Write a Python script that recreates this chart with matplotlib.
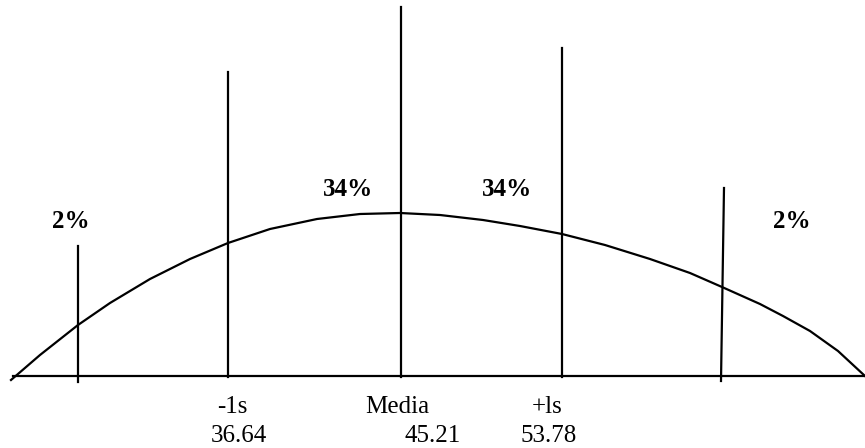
import matplotlib.pyplot as plt

# curve points (pixel-like units, y grows downward)
curve_x = [11, 40, 78, 110, 150, 190, 228, 270, 317, 360, 400, 440, 483, 520, 562, 605, 650, 690, 722, 760, 783, 810, 838, 865]
curve_y = [380, 355, 325, 303, 279, 259, 243, 229, 219, 214, 213, 215, 220, 226, 234, 245, 259, 273, 287, 304, 316, 331, 351, 376]

# vertical lines: x at top, x at bottom, top y, bottom y
vx_top = [78, 228, 401, 562, 724]
vx_bot = [78, 228, 401, 562, 721]
v_top = [246, 72, 7, 48, 188]
v_bot = [382, 377, 377, 377, 381]

base_x = [13, 865]
base_y = [376, 376]

pct_labels = ['2%', '34%', '34%', '2%']
pct_x = [71, 348, 507, 792]
pct_y = [221, 190, 190, 221]

name_labels = ['-1s', 'Media', '+ls']
name_x = [232, 397, 547]
value_labels = ['36.64', '45.21', '53.78']
value_x = [239, 433, 549]

plt.rcParams['font.family'] = ['Liberation Serif', 'DejaVu Serif']

fig = plt.figure(figsize=(8.65, 4.48), dpi=100)
ax = fig.add_axes([0, 0, 1, 1])
ax.set_xlim(0, 865)
ax.set_ylim(448, 0)
ax.axis('off')

ax.plot(curve_x, curve_y, color='black', lw=1.6, solid_joinstyle='round')
ax.plot(base_x, base_y, color='black', lw=1.6)
for xt, xb, yt, yb in zip(vx_top, vx_bot, v_top, v_bot):
    ax.plot([xt, xb], [yt, yb], color='black', lw=1.6)

for s, x, y in zip(pct_labels, pct_x, pct_y):
    ax.text(x, y, s, ha='center', va='center', fontsize=18, fontweight='bold')

for s, x in zip(name_labels, name_x):
    ax.text(x, 413, s, ha='center', va='baseline', fontsize=18)
for s, x in zip(value_labels, value_x):
    ax.text(x, 447, s, ha='center', va='bottom', fontsize=18)

fig.savefig('out.png', dpi=100)
